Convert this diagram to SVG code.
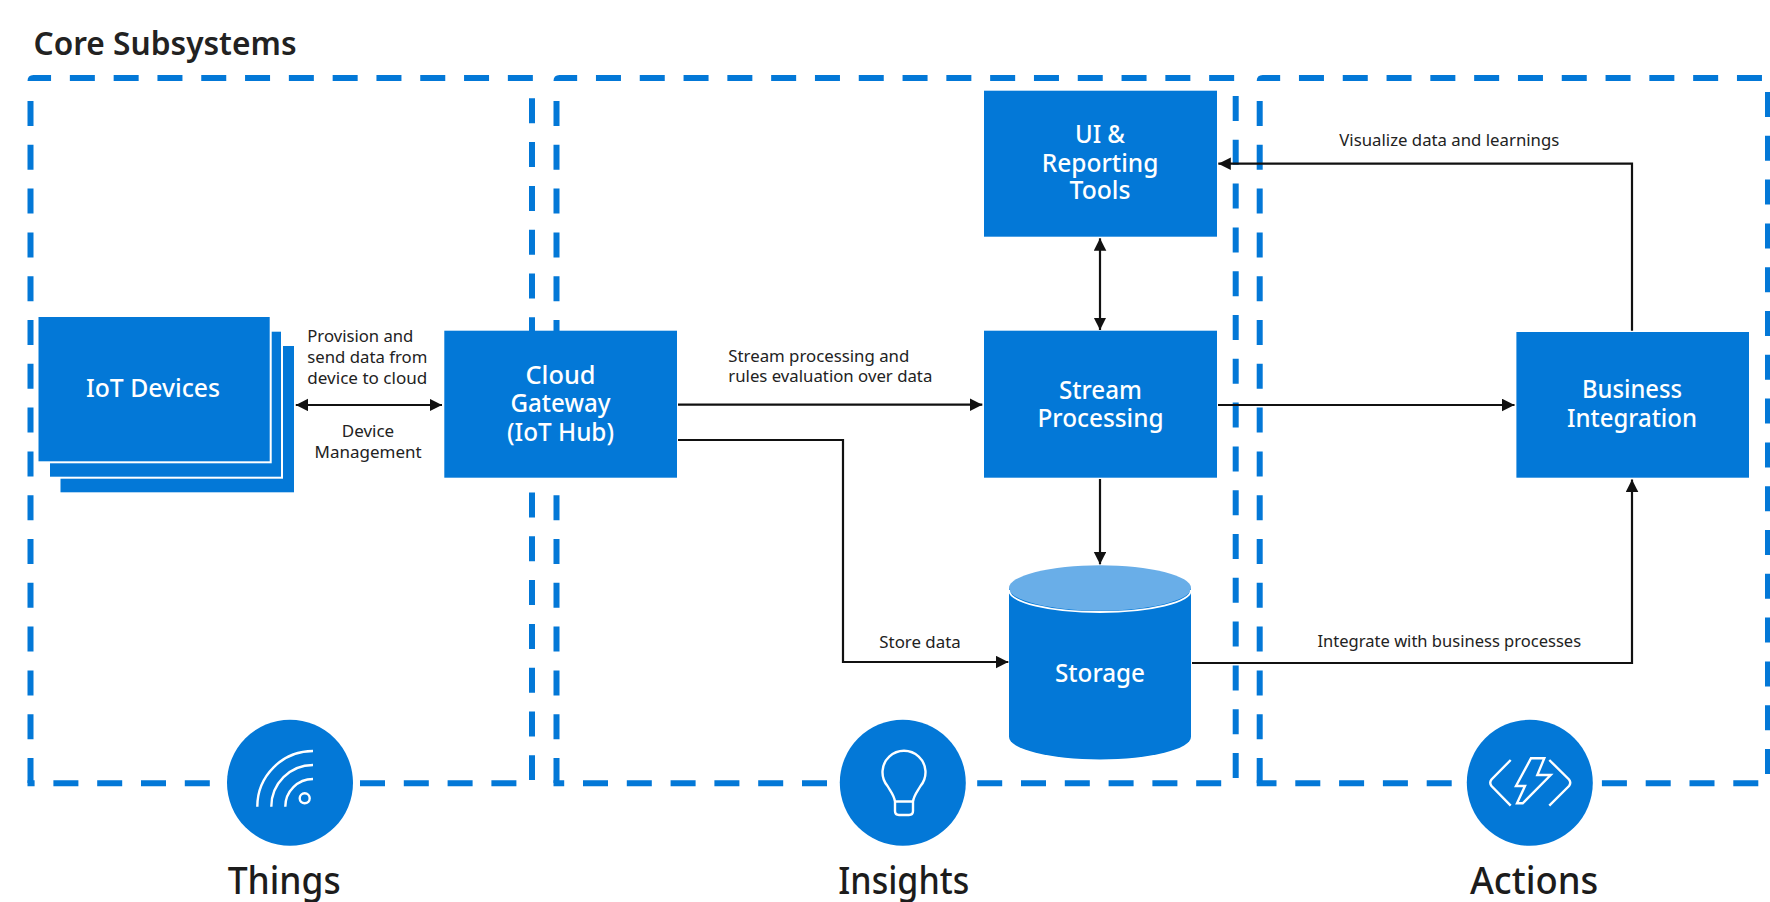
<svg xmlns="http://www.w3.org/2000/svg" width="1770" height="902" viewBox="0 0 1770 902">
<style>
text{font-family:"Noto Sans","Open Sans","Liberation Sans",sans-serif}
.box{fill:#0378d7}
.n{fill:#fff;font-size:25px;font-weight:500;text-anchor:middle}
.e{fill:#222;font-size:16.5px}
.h{fill:#1c1c1c;font-size:37.5px;font-weight:500}
.d{fill:none;stroke:#0378d7;stroke-width:6;stroke-dasharray:25 18.8}
.c{fill:none;stroke:#111;stroke-width:2.2}
.i{fill:none;stroke:#fff;stroke-width:2.4}
</style>
<defs>
<marker id="ah" markerUnits="userSpaceOnUse" markerWidth="14" markerHeight="14" refX="12.5" refY="6.3" orient="auto-start-reverse"><path d="M0,0L12.5,6.3L0,12.6z" fill="#111"/></marker>
</defs>
<rect width="1770" height="902" fill="#fff"/>
<text x="33.5" y="54.5" font-size="32" font-weight="600" fill="#222" textLength="263" lengthAdjust="spacingAndGlyphs">Core Subsystems</text>
<g id="boundaries">
<path class="d" stroke-dashoffset="2.7" d="M30.5,81Q30.5,78 33.5,78H535"/>
<path class="d" d="M532,98.3V780"/>
<path class="d" d="M30.5,101V783"/>
<path class="d" stroke-dashoffset="17.9" d="M27.5,783.3H516.7"/>
<path class="d" stroke-dashoffset="2.6" d="M556.5,81Q556.5,78 559.5,78H1235"/>
<path class="d" d="M1235.7,96V778.5"/>
<path class="d" d="M556.5,101V783"/>
<path class="d" stroke-dashoffset="14.3" d="M553.5,783.3H1236"/>
<path class="d" stroke-dashoffset="2.8" d="M1259.7,81Q1259.7,78 1262.7,78H1770"/>
<path class="d" d="M1259.7,101V783"/>
<path class="d" stroke-dashoffset="5.2" d="M1256.7,783.3H1759"/>
<path class="d" d="M1768,92V774"/>
</g>
<g id="iot-devices">
<rect class="box" x="60.5" y="346" width="233.5" height="146.3"/>
<rect class="box" x="49" y="330.7" width="233" height="147" stroke="#fff" stroke-width="2"/>
<rect class="box" x="37.5" y="316" width="233.2" height="146.3" stroke="#fff" stroke-width="2"/>
<text class="n" x="153" y="397.2" textLength="134" lengthAdjust="spacingAndGlyphs">IoT Devices</text>
</g>
<g id="cloud-gateway">
<rect class="box" x="444.3" y="330.7" width="232.7" height="147"/>
<text class="n"><tspan x="560.5" y="384" textLength="70" lengthAdjust="spacingAndGlyphs">Cloud</tspan><tspan x="560.5" y="412.4" textLength="100" lengthAdjust="spacingAndGlyphs">Gateway</tspan><tspan x="560.5" y="440.7" textLength="107" lengthAdjust="spacingAndGlyphs">(IoT Hub)</tspan></text>
</g>
<g id="ui-reporting">
<rect class="box" x="984" y="90.7" width="233" height="146"/>
<text class="n"><tspan x="1100" y="143.2" textLength="50" lengthAdjust="spacingAndGlyphs">UI &amp;</tspan><tspan x="1100" y="171.5" textLength="116.7" lengthAdjust="spacingAndGlyphs">Reporting</tspan><tspan x="1100" y="199.2" textLength="61" lengthAdjust="spacingAndGlyphs">Tools</tspan></text>
</g>
<g id="stream-processing">
<rect class="box" x="984" y="330.7" width="233" height="147"/>
<text class="n"><tspan x="1100.5" y="398.8" textLength="83" lengthAdjust="spacingAndGlyphs">Stream</tspan><tspan x="1100.5" y="426.8" textLength="126" lengthAdjust="spacingAndGlyphs">Processing</tspan></text>
</g>
<g id="business-integration">
<rect class="box" x="1516.4" y="332" width="232.6" height="145.7"/>
<text class="n"><tspan x="1632" y="398" textLength="100" lengthAdjust="spacingAndGlyphs">Business</tspan><tspan x="1632" y="426.7" textLength="130" lengthAdjust="spacingAndGlyphs">Integration</tspan></text>
</g>
<g id="storage">
<path class="box" d="M1009,588V736.7A91,22.7 0 0 0 1191,736.7V588z"/>
<ellipse cx="1100" cy="588" rx="91" ry="22.7" fill="#69aee8"/>
<path d="M1009,590A91,22 0 0 0 1191,590" fill="none" stroke="#fff" stroke-width="1.8"/>
<text class="n" x="1100" y="681.8" textLength="90" lengthAdjust="spacingAndGlyphs">Storage</text>
</g>
<g id="connectors">
<path class="c" marker-start="url(#ah)" marker-end="url(#ah)" d="M295.8,405H442"/>
<path class="c" marker-start="url(#ah)" marker-end="url(#ah)" d="M1100,238.3V330"/>
<path class="c" marker-end="url(#ah)" d="M1100,479V564.3"/>
<path class="c" marker-end="url(#ah)" d="M678,404.7H982.3"/>
<path class="c" marker-end="url(#ah)" d="M678,440H843V662H1008.3"/>
<path class="c" marker-end="url(#ah)" d="M1218,405H1514.5"/>
<path class="c" marker-end="url(#ah)" d="M1192,663H1632V479.5"/>
<path class="c" marker-end="url(#ah)" d="M1632,330.7V163.7H1218.3"/>
</g>
<g id="edge-labels">
<text class="e"><tspan x="307.3" y="342.3" textLength="106" lengthAdjust="spacingAndGlyphs">Provision and</tspan><tspan x="307.3" y="363.3" textLength="120" lengthAdjust="spacingAndGlyphs">send data from</tspan><tspan x="307.3" y="384" textLength="120" lengthAdjust="spacingAndGlyphs">device to cloud</tspan></text>
<text class="e"><tspan x="341.8" y="437.3" textLength="52.4" lengthAdjust="spacingAndGlyphs">Device</tspan><tspan x="314.6" y="458.3" textLength="107" lengthAdjust="spacingAndGlyphs">Management</tspan></text>
<text class="e"><tspan x="728.3" y="361.7" textLength="181" lengthAdjust="spacingAndGlyphs">Stream processing  and</tspan><tspan x="728.3" y="382.3" textLength="204" lengthAdjust="spacingAndGlyphs">rules evaluation over data</tspan></text>
<text class="e" x="879.3" y="648.3" textLength="81.4" lengthAdjust="spacingAndGlyphs">Store data</text>
<text class="e" x="1339.3" y="146" textLength="220" lengthAdjust="spacingAndGlyphs">Visualize data and learnings</text>
<text class="e" x="1317.5" y="647.3" textLength="263.6" lengthAdjust="spacingAndGlyphs">Integrate with business processes</text>
</g>
<g id="things">
<circle class="box" cx="290" cy="782.8" r="63"/>
<path class="i" d="M257.3,806.7A55.7,55.7 0 0 1 313,751M271.3,806.7A41.7,41.7 0 0 1 313,765M285.3,806.7A27.7,27.7 0 0 1 313,779"/>
<circle class="i" cx="304.7" cy="798.3" r="5"/>
<text class="h" x="227.7" y="893.8" textLength="113" lengthAdjust="spacingAndGlyphs">Things</text>
</g>
<g id="insights">
<circle class="box" cx="902.8" cy="782.8" r="63"/>
<path class="i" stroke-linejoin="round" d="M895,801.5C894,795 891,792 887.5,786A21.5,21.5 0 1 1 920.5,786C917,792 914,795 913,801.5ZM895,801.5V811Q895,815 899,815H909Q913,815 913,811V801.5"/>
<text class="h" x="838.3" y="893.8" textLength="131" lengthAdjust="spacingAndGlyphs">Insights</text>
</g>
<g id="actions">
<circle class="box" cx="1529.8" cy="782.8" r="63"/>
<path class="i" d="M1510.7,760L1491.5,779.5Q1489,782.7 1491.5,786L1510.7,805.7M1549.3,760L1569,779.5Q1571.5,782.7 1569,786L1549.3,805.7"/>
<path class="i" stroke-width="2" d="M1531,758.3H1544.3L1537.3,775H1550.7L1522.7,803.3H1517L1525,786H1516Z"/>
<text class="h" x="1470" y="893.8" textLength="128.3" lengthAdjust="spacingAndGlyphs">Actions</text>
</g>
</svg>
